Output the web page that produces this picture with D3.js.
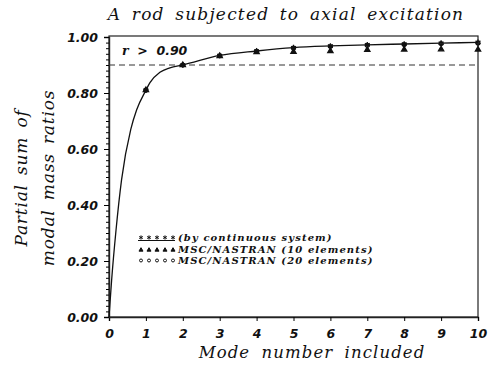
<!DOCTYPE html>
<html>
<head>
<meta charset="utf-8">
<script src="https://cdn.jsdelivr.net/npm/d3@7"></script>
<style>
  body { margin: 0; background: #fff; }
  svg { display: block; }
  .tick text { font-family: "DejaVu Sans", sans-serif; font-weight: bold; font-style: italic; font-size: 12.5px; fill: #111; }
</style>
</head>
<body>
<div id="grafico"></div>
<script>
// modos
const modes = [1, 2, 3, 4, 5, 6, 7, 8, 9, 10];
// sistema continuo (asteriscos)
const continuousVals = [0.81, 0.90, 0.934, 0.950, 0.962, 0.968, 0.972, 0.975, 0.978, 0.981];
// MSC/NASTRAN 10 elementos (triangulos)
const nastran10Vals = [0.81, 0.90, 0.932, 0.946, 0.947, 0.950, 0.954, 0.955, 0.956, 0.955];
// MSC/NASTRAN 20 elementos (circulos)
const nastran20Vals = [0.81, 0.90, 0.933, 0.949, 0.960, 0.966, 0.970, 0.973, 0.976, 0.978];
// curva continua
const curveX = [0, 0.07, 0.19, 0.34, 0.59, 0.75, 1, 1.11, 1.38, 1.65, 2, 3, 4, 5, 6, 7, 8, 9, 10];
const curveY = [0, 0.13, 0.31, 0.49, 0.67, 0.74, 0.81, 0.837, 0.874, 0.89, 0.90, 0.934, 0.950, 0.962, 0.968, 0.972, 0.975, 0.978, 0.981];
const xTicks = [0, 1, 2, 3, 4, 5, 6, 7, 8, 9, 10];
const yTicks = [0, 0.2, 0.4, 0.6, 0.8, 1.0];
const threshold = 0.90;
const legendLabels = ["(by continuous system)", "MSC/NASTRAN (10 elements)", "MSC/NASTRAN (20 elements)"];

const width = 488, height = 365;
const mLeft = 109, mRight = 478, mTop = 37, mBottom = 317;

const svg = d3.select('#grafico').append('svg')
    .attr('width', width)
    .attr('height', height);

const xScale = d3.scaleLinear().domain([0, 10]).range([mLeft, mRight]);
const yScale = d3.scaleLinear().domain([0, 1]).range([mBottom, mTop]);

// marco
svg.append('rect')
    .attr('x', mLeft).attr('y', mTop - 1)
    .attr('width', mRight - mLeft).attr('height', mBottom - mTop + 1)
    .attr('fill', 'none').attr('stroke', '#222').attr('stroke-width', 1.2);

// Eje X
const xAxis = d3.axisBottom(xScale).tickValues(xTicks).tickSize(4).tickPadding(8)
    .tickFormat(d3.format('d'));
svg.append('g')
    .attr('transform', `translate(0, ${mBottom})`)
    .call(xAxis)
    .call(g => g.select('.domain').attr('stroke', '#222').attr('stroke-width', 1.4));

// Eje Y menor
svg.append('g')
    .attr('transform', `translate(${mLeft}, 0)`)
    .call(d3.axisLeft(yScale).tickValues(d3.range(0, 1.001, 0.02)).tickSize(3).tickFormat(''))
    .call(g => g.select('.domain').remove());

// Eje Y
const yAxis = d3.axisLeft(yScale).tickValues(yTicks).tickSize(5).tickPadding(6)
    .tickFormat(d3.format('.2f'));
svg.append('g')
    .attr('transform', `translate(${mLeft}, 0)`)
    .call(yAxis)
    .call(g => g.select('.domain').attr('stroke', '#222').attr('stroke-width', 1.4));

// linea r = 0.90
svg.append('line')
    .attr('x1', mLeft).attr('x2', mRight)
    .attr('y1', yScale(threshold)).attr('y2', yScale(threshold))
    .attr('stroke', '#333').attr('stroke-width', 1)
    .attr('stroke-dasharray', '6,4');

const rText = svg.append('text')
    .attr('x', 122).attr('y', 55)
    .attr('font-family', 'DejaVu Sans, sans-serif')
    .attr('font-weight', 'bold').attr('font-style', 'italic')
    .attr('font-size', 12.5).attr('fill', '#111');
rText.append('tspan').attr('font-family', 'DejaVu Serif, serif').text('r');
rText.append('tspan').attr('xml:space', 'preserve').text('  >  0.90');

// curva continua
const curvePts = curveX.map((x, i) => [x, curveY[i]]);
svg.append('path')
    .datum(curvePts)
    .attr('fill', 'none').attr('stroke', '#111').attr('stroke-width', 1.3)
    .attr('d', d3.line().x(d => xScale(d[0])).y(d => yScale(d[1])).curve(d3.curveMonotoneX));

const asterisk = d3.symbol().type(d3.symbolAsterisk).size(22);
const triangle = d3.symbol().type(d3.symbolTriangle).size(12);
const circle = d3.symbol().type(d3.symbolCircle).size(12);

function drawMarks(vals, sym, cls, filled) {
    svg.selectAll('path.' + cls)
        .data(vals)
        .enter()
        .append('path')
        .attr('class', cls)
        .attr('transform', (d, i) => `translate(${xScale(modes[i])}, ${yScale(d)})`)
        .attr('d', sym)
        .attr('fill', filled ? '#111' : 'none')
        .attr('stroke', '#111')
        .attr('stroke-width', 1.3);
}
drawMarks(nastran10Vals, triangle, 'tri', true);
drawMarks(nastran20Vals, circle, 'circ', false);
drawMarks(continuousVals, asterisk, 'ast', false);

// leyenda
const legText = [241, 252.5, 263.5];
const legSym = [237.5, 250, 260.5];
const legend = svg.append('g');
legendLabels.forEach((lab, i) => {
    d3.range(5).forEach(k => {
        legend.append('path')
            .attr('transform', `translate(${141 + k * 8}, ${legSym[i]})`)
            .attr('d', i === 0 ? d3.symbol().type(d3.symbolAsterisk).size(12)() :
                       d3.symbol().type(i === 1 ? d3.symbolTriangle : d3.symbolCircle).size(7)())
            .attr('fill', i === 1 ? '#111' : 'none')
            .attr('stroke', '#111').attr('stroke-width', 1);
    });
    legend.append('text')
        .attr('x', 178).attr('y', legText[i])
        .attr('font-family', 'DejaVu Serif, serif')
        .attr('font-weight', 'bold').attr('font-style', 'italic')
        .attr('font-size', 10).attr('fill', '#111')
        .attr('letter-spacing', 1.1)
        .text(lab);
});
legend.append('line')
    .attr('x1', 138).attr('x2', 175).attr('y1', 240.5).attr('y2', 240.5)
    .attr('stroke', '#111').attr('stroke-width', 1);

// titulo
svg.append('text')
    .attr('x', 286).attr('y', 20)
    .attr('text-anchor', 'middle')
    .attr('font-family', 'DejaVu Serif, serif').attr('font-style', 'italic')
    .attr('font-size', 17).attr('fill', '#111')
    .attr('letter-spacing', 1.2).attr('word-spacing', 4)
    .text('A rod subjected to axial excitation');

// titulo eje X
svg.append('text')
    .attr('x', 312).attr('y', 358)
    .attr('text-anchor', 'middle')
    .attr('font-family', 'DejaVu Serif, serif').attr('font-style', 'italic')
    .attr('font-size', 16.5).attr('fill', '#111')
    .attr('letter-spacing', 1.1).attr('word-spacing', 5)
    .text('Mode number included');

// titulo eje Y
const yLab = svg.append('g').attr('transform', 'translate(0, 178) rotate(-90)');
yLab.append('text')
    .attr('x', 0).attr('y', 27)
    .attr('text-anchor', 'middle')
    .attr('font-family', 'DejaVu Serif, serif').attr('font-style', 'italic')
    .attr('font-size', 17).attr('fill', '#111')
    .attr('letter-spacing', 0.8).attr('word-spacing', 3)
    .text('Partial sum of');
yLab.append('text')
    .attr('x', 0).attr('y', 54)
    .attr('text-anchor', 'middle')
    .attr('font-family', 'DejaVu Serif, serif').attr('font-style', 'italic')
    .attr('font-size', 17).attr('fill', '#111')
    .attr('letter-spacing', 0.8).attr('word-spacing', 3)
    .text('modal mass ratios');
</script>
</body>
</html>
